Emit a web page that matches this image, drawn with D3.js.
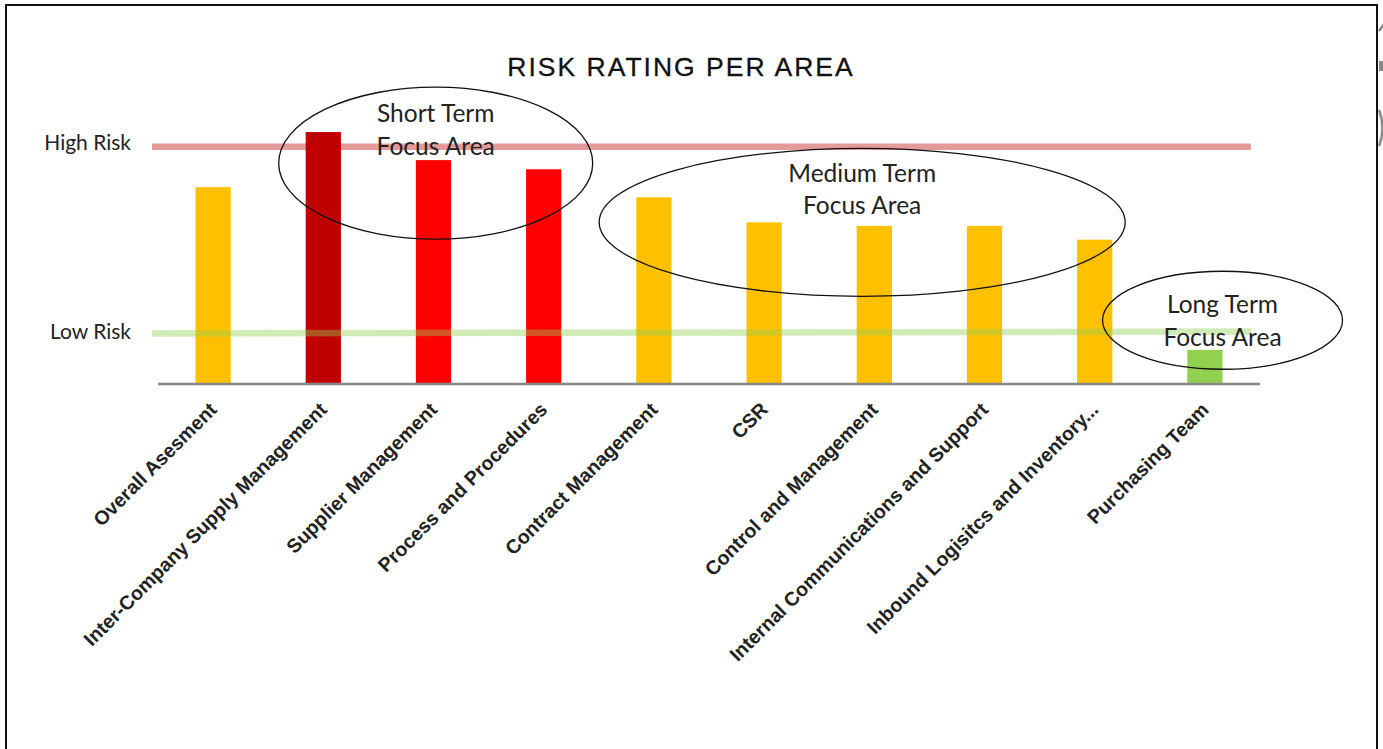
<!DOCTYPE html>
<html>
<head>
<meta charset="utf-8">
<script src="https://cdn.jsdelivr.net/npm/d3@7"></script>
<style>
  html, body { margin: 0; padding: 0; background: #fff; }
  svg { display: block; }
</style>
</head>
<body>
<svg id="chart" width="1383" height="749"></svg>
<script>
// ---- data ----
const categories = [
  "Overall Asesment",
  "Inter-Company Supply Management",
  "Supplier Management",
  "Process and Procedures",
  "Contract Management",
  "CSR",
  "Control and Management",
  "Internal Communications and Support",
  "Inbound Logisitcs and Inventory...",
  "Purchasing Team"
];
const riskValues = [3.86, 4.94, 4.39, 4.21, 3.66, 3.17, 3.10, 3.10, 2.83, 0.67];
const riskLevels = ["amber", "critical", "high", "high", "amber", "amber", "amber", "amber", "amber", "low"];
const thresholdLabels = ["High Risk", "Low Risk"];
const thresholdValues = [4.65, 1.0];
const titleText = "RISK RATING PER AREA";
const focusLabels = [["Short Term", "Focus Area"], ["Medium Term", "Focus Area"], ["Long Term", "Focus Area"]];
// focus area placement: centre as fractional category index and rating value
const focusIndex = [2.02, 5.89, 9.16];
const focusValue = [4.33, 3.17, 1.25];
const focusTextValue = [4.81, 3.65, 1.07];
const focusRx = [157, 263, 120];
const focusRy = [76, 74, 49];

// ---- styles ----
const levelColor = { critical: "#C00000", high: "#FF0000", amber: "#FFC000", low: "#92D050" };
const svg = d3.select("#chart");

// frame
svg.append("rect").attr("x", 6).attr("y", 5).attr("width", 1371).attr("height", 800)
  .attr("fill", "none").attr("stroke", "#111").attr("stroke-width", 2);
// clipped fragments beyond the frame edge
const frag = svg.append("g").attr("fill", "none").attr("stroke", "#8a8a8a").attr("stroke-width", 2.5);
frag.append("path").attr("d", "M1379,31 L1384,24");
frag.append("rect").attr("x", 1379).attr("y", 61).attr("width", 5).attr("height", 10).attr("fill", "#8a8a8a").attr("stroke", "none");
frag.append("path").attr("d", "M1379,110 Q1386,128 1379,146");

const x = d3.scaleBand().domain(categories).range([158, 1260]).paddingInner(0.68).paddingOuter(0.34);
const y = d3.scaleLinear().domain([0, 5]).range([384, 129]);
const bw = x.bandwidth();
const xi = d3.scaleLinear().domain([0, categories.length - 1])
  .range([x(categories[0]) + bw / 2, x(categories[categories.length - 1]) + bw / 2]);

// title
svg.append("text").attr("x", 681).attr("y", 76)
  .attr("text-anchor", "middle")
  .attr("font-family", "Liberation Sans, Arial, sans-serif")
  .attr("font-size", 26.5).attr("letter-spacing", 2).attr("fill", "#111")
  .attr("stroke", "#111").attr("stroke-width", 0.3)
  .text(titleText);

// high risk line (behind bars)
svg.append("line")
  .attr("x1", 152).attr("x2", 1251)
  .attr("y1", y(thresholdValues[0])).attr("y2", y(thresholdValues[0]))
  .attr("stroke", "#E49A9B").attr("stroke-width", 6.5);

// bars
svg.append("g").selectAll("rect").data(categories).join("rect")
  .attr("x", d => x(d))
  .attr("y", (d, i) => y(riskValues[i]))
  .attr("width", bw)
  .attr("height", (d, i) => y(0) - y(riskValues[i]))
  .attr("fill", (d, i) => levelColor[riskLevels[i]]);

// low risk line (semi transparent, over bars)
svg.append("line")
  .attr("x1", 152).attr("x2", 1251)
  .attr("y1", y(thresholdValues[1]) + 0.5).attr("y2", y(thresholdValues[1]) - 1.5)
  .attr("stroke", "#92D050").attr("stroke-opacity", 0.42).attr("stroke-width", 6.5);

// threshold labels
svg.append("g").selectAll("text").data(thresholdLabels).join("text")
  .attr("x", 131)
  .attr("y", (d, i) => y(thresholdValues[i]) - (i === 0 ? 4 : 2))
  .attr("dy", "0.36em")
  .attr("text-anchor", "end")
  .attr("font-family", "Lato, 'Open Sans', sans-serif")
  .attr("font-size", 21).attr("fill", "#222")
  .text(d => d);

// x axis
const axis = svg.append("g").attr("transform", `translate(0,${y(0)})`)
  .call(d3.axisBottom(x).tickSize(0).tickSizeOuter(0));
axis.select(".domain").remove();
axis.append("line").attr("x1", 158).attr("x2", 1260).attr("y1", 0).attr("y2", 0)
  .attr("stroke", "#888").attr("stroke-width", 2.6);
axis.selectAll(".tick text")
  .attr("x", 0).attr("y", 0).attr("dy", "0.35em")
  .attr("text-anchor", "end")
  .attr("transform", "translate(0,22) rotate(-45)")
  .attr("font-family", "Liberation Sans, Arial, sans-serif")
  .attr("font-weight", "bold")
  .attr("font-size", 19.6)
  .attr("fill", "#222");

// focus ellipses
const ann = svg.append("g");
ann.selectAll("ellipse").data(focusLabels).join("ellipse")
  .attr("cx", (d, i) => xi(focusIndex[i]))
  .attr("cy", (d, i) => y(focusValue[i]))
  .attr("rx", (d, i) => focusRx[i])
  .attr("ry", (d, i) => focusRy[i])
  .attr("fill", "none").attr("stroke", "#111").attr("stroke-width", 1.3);

focusLabels.forEach((lines, i) => {
  const t = ann.append("text")
    .attr("text-anchor", "middle")
    .attr("font-family", "Lato, 'Open Sans', sans-serif")
    .attr("font-size", 24.5).attr("fill", "#222");
  lines.forEach((ln, j) => {
    t.append("tspan").attr("x", xi(focusIndex[i]))
      .attr("y", y(focusTextValue[i]) + (j === 0 ? -16.3 : 16.3))
      .text(ln);
  });
});
</script>
</body>
</html>
